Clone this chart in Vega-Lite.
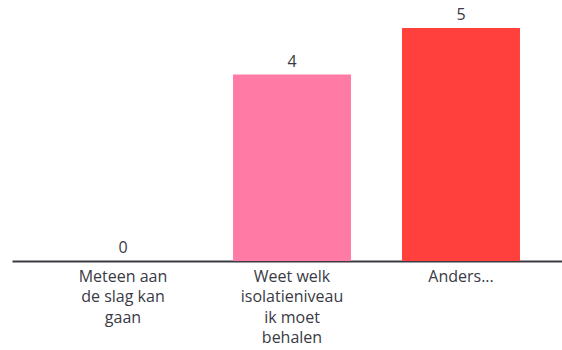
{
  "$schema": "https://vega.github.io/schema/vega-lite/v6.json",
  "autosize": "none",
  "width": 560,
  "height": 233,
  "padding": {"left": 12, "top": 28, "right": 0, "bottom": 89},
  "background": "white",
  "config": {"view": {"stroke": null}, "font": "Open Sans"},
  "data": {
    "values": [
      {"option": "Meteen aan de slag kan gaan", "count": 0},
      {"option": "Weet welk isolatieniveau ik moet behalen", "count": 4},
      {"option": "Anders...", "count": 5}
    ]
  },
  "encoding": {
    "x": {
      "field": "option",
      "type": "nominal",
      "sort": null,
      "scale": {"paddingInner": 0.302, "paddingOuter": 0.3078},
      "axis": {
        "title": null,
        "labelAngle": 0,
        "ticks": false,
        "domainColor": "#3a3a45",
        "domainWidth": 2,
        "labelFontSize": 16,
        "labelColor": "#3a3a45",
        "labelPadding": 7,
        "labelBaseline": "top",
        "labelLineHeight": 20.5,
        "labelLimit": 0,
        "labelExpr": "datum.value == 'Meteen aan de slag kan gaan' ? ['Meteen aan', 'de slag kan', 'gaan'] : datum.value == 'Weet welk isolatieniveau ik moet behalen' ? ['Weet welk', 'isolatieniveau', 'ik moet', 'behalen'] : datum.value"
      }
    },
    "y": {
      "field": "count",
      "type": "quantitative",
      "scale": {"domain": [0, 5], "nice": false},
      "axis": null
    }
  },
  "layer": [
    {
      "mark": {"type": "bar"},
      "encoding": {
        "color": {
          "field": "option",
          "type": "nominal",
          "sort": null,
          "scale": {"range": ["#5769e7", "#ff7ba6", "#ff403d"]},
          "legend": null
        }
      }
    },
    {
      "mark": {"type": "text", "baseline": "bottom", "dy": -5, "fontSize": 16, "color": "#3a3a45"},
      "encoding": {"text": {"field": "count", "type": "quantitative"}}
    }
  ]
}
